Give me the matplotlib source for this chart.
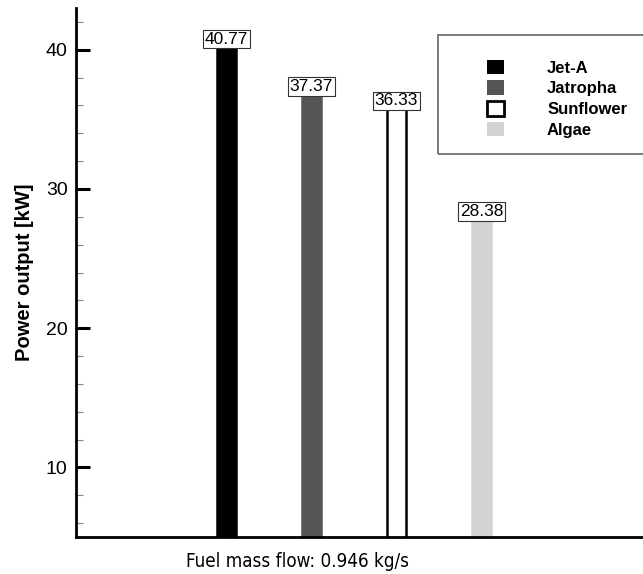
import matplotlib.pyplot as plt
from matplotlib.patches import Patch, Rectangle
from matplotlib.ticker import MultipleLocator

fuels = ["Jet-A", "Jatropha", "Sunflower", "Algae"]
power = [40.77, 37.37, 36.33, 28.38]
face = ["#000000", "#555555", "#ffffff", "#d3d3d3"]
edge = ["#000000", "#555555", "#000000", "#d3d3d3"]
labels = ["40.77", "37.37", "36.33", "28.38"]

plt.rcParams['font.family'] = ['Liberation Sans', 'DejaVu Sans']

fig = plt.figure(figsize=(6.43, 5.74), dpi=100)
ax = fig.add_axes([76 / 643, 37 / 574, 567 / 643, 529 / 574])

x = range(len(fuels))
ax.bar(x, power, width=0.22, color=face, edgecolor=edge, linewidth=1.8, zorder=2)

for i, v in enumerate(power):
    ax.text(i, v, labels[i], ha="center", va="center", fontsize=12.5, zorder=3,
            bbox=dict(boxstyle="square,pad=0.1", fc="white", ec="#333333", lw=0.8))

ax.set_xlim(-1.77, 4.9)
ax.set_ylim(5, 43)
ax.set_xticks([])
ax.yaxis.set_major_locator(MultipleLocator(10))
ax.yaxis.set_minor_locator(MultipleLocator(2))
ax.tick_params(axis="y", which="major", direction="in", length=10, width=2.2, labelsize=14, pad=6)
ax.tick_params(axis="y", which="minor", direction="in", length=5, width=0.8, color="#888888")

for s in ["top", "right"]:
    ax.spines[s].set_visible(False)
for s in ["left", "bottom"]:
    ax.spines[s].set_linewidth(2)

ax.set_ylabel("Power output [kW]", fontsize=14.5, fontweight="bold")
ax.yaxis.set_label_coords(-0.074, 0.5)
ax.set_xlabel("Fuel mass flow: 0.946 kg/s", fontsize=13.5, fontweight="medium",
              family=["DejaVu Sans Condensed", "DejaVu Sans"], stretch="condensed")
ax.xaxis.set_label_coords(0.39, -0.029)

# legend frame drawn separately so it runs off the right edge like the original
ax.add_patch(Rectangle((0.638, 0.724), 0.5, 0.225, transform=ax.transAxes,
                       fill=False, ec="#666666", lw=1.2, clip_on=False, zorder=4))
handles = [Patch(fc=face[i], ec=edge[i], lw=2 if i == 2 else 0) for i in range(4)]
leg = ax.legend(handles, fuels, loc="upper left", bbox_to_anchor=(0.725, 0.9026),
                frameon=False, borderpad=0, borderaxespad=0, handlelength=1.0,
                handleheight=1.0, handletextpad=2.6, labelspacing=0.27,
                prop={"weight": "bold", "size": 12})

plt.savefig("out.png", dpi=100)
